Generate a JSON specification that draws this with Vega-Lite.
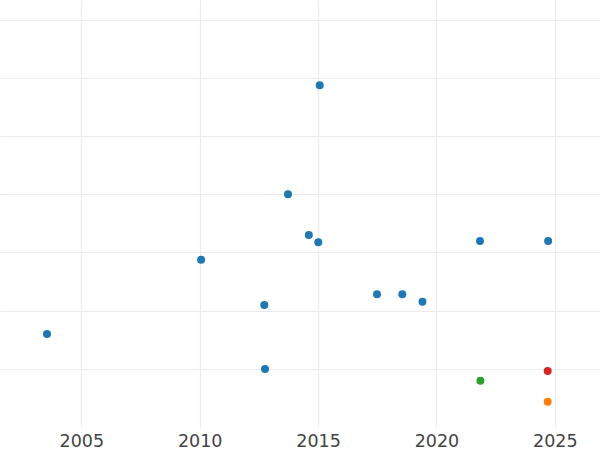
{
  "$schema": "https://vega.github.io/schema/vega-lite/v6.json",
  "width": 600,
  "height": 427,
  "padding": {"left": 0, "top": 0, "right": 0, "bottom": 23},
  "autosize": {"type": "none"},
  "background": "white",
  "config": {
    "view": {"stroke": null},
    "font": "DejaVu Sans"
  },
  "data": {
    "values": [
      {"year": 2003.55, "value": 16.0, "group": "A"},
      {"year": 2010.06, "value": 28.76, "group": "A"},
      {"year": 2012.73, "value": 20.97, "group": "A"},
      {"year": 2012.76, "value": 9.97, "group": "A"},
      {"year": 2013.73, "value": 40.0, "group": "A"},
      {"year": 2014.61, "value": 33.0, "group": "A"},
      {"year": 2015.01, "value": 31.75, "group": "A"},
      {"year": 2015.07, "value": 58.74, "group": "A"},
      {"year": 2017.49, "value": 22.81, "group": "A"},
      {"year": 2018.56, "value": 22.81, "group": "A"},
      {"year": 2019.41, "value": 21.54, "group": "A"},
      {"year": 2021.84, "value": 31.98, "group": "A"},
      {"year": 2024.72, "value": 31.98, "group": "A"},
      {"year": 2021.86, "value": 7.96, "group": "C"},
      {"year": 2024.70, "value": 9.63, "group": "D"},
      {"year": 2024.70, "value": 4.35, "group": "B"}
    ]
  },
  "mark": {"type": "circle", "size": 64, "opacity": 1},
  "encoding": {
    "x": {
      "field": "year",
      "type": "quantitative",
      "scale": {"domain": [2001.565, 2026.91], "nice": false, "zero": false},
      "axis": {
        "title": null,
        "values": [2005, 2010, 2015, 2020, 2025],
        "format": "d",
        "domain": false,
        "ticks": false,
        "labelFontSize": 17.5,
        "labelColor": "#444444",
        "labelPadding": 5,
        "gridColor": "#ebebeb",
        "gridWidth": 1.2
      }
    },
    "y": {
      "field": "value",
      "type": "quantitative",
      "scale": {"domain": [0, 73.4], "nice": false, "zero": false},
      "axis": {
        "title": null,
        "values": [10, 20, 30, 40, 50, 60, 70],
        "labels": false,
        "domain": false,
        "ticks": false,
        "gridColor": "#ebebeb",
        "gridWidth": 1.2
      }
    },
    "color": {
      "field": "group",
      "type": "nominal",
      "scale": {"domain": ["A", "B", "C", "D"], "range": ["#1f77b4", "#ff7f0e", "#2ca02c", "#d62728"]},
      "legend": null
    }
  }
}
